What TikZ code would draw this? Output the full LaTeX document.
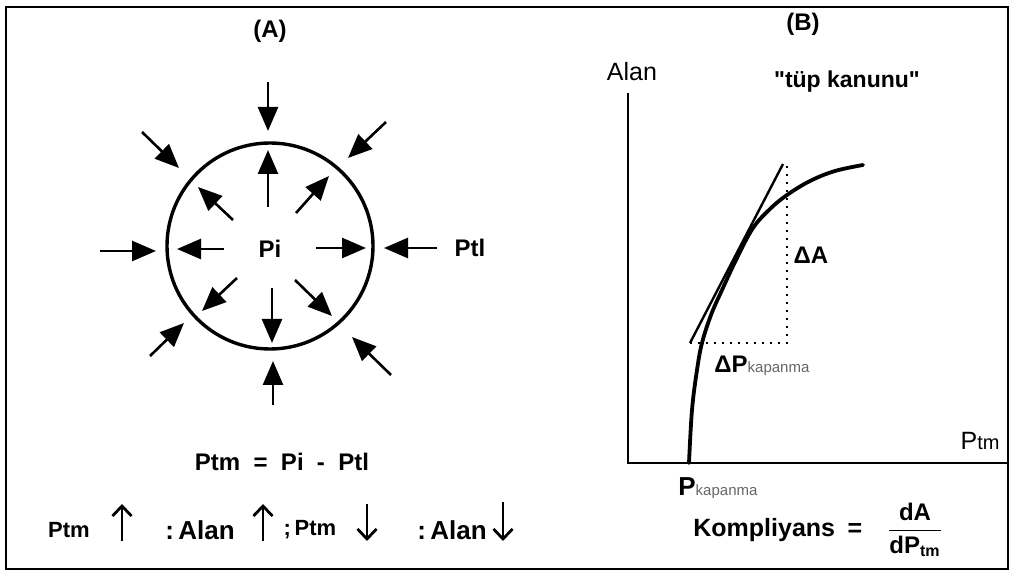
\documentclass[tikz,border=0pt]{standalone}
\usepackage{fontspec}
\setmainfont{Liberation Sans}
\usepackage{amsmath}
\usetikzlibrary{arrows.meta, positioning, calc}
\tikzset{
    tbframe/.style={draw, line width=1.3pt},
    tbarrow/.style={-{Triangle[length=12pt, width=10pt]}, line width=1.3pt},
    tbsmall/.style={-{Straight Barb[length=5pt, width=9.5pt]}, line width=1.4pt},
    tbtube/.style={circle, draw, line width=1.7pt, minimum size=103pt, inner sep=0pt},
    tbaxis/.style={line width=1.1pt},
    tbcurve/.style={line width=1.9pt, line cap=round},
    tbtangent/.style={line width=1.2pt},
    tbdelta/.style={line width=0.9pt, dash pattern=on 1pt off 3pt},
    tblabel/.style={font=\fontsize{12}{14}\selectfont\bfseries, inner sep=1pt},
    tbplain/.style={font=\fontsize{12.5}{14}\selectfont, inner sep=1pt}
}
\newcommand{\tbsub}[1]{{\fontsize{7.5}{8}\selectfont\mdseries\color{black!60}#1}}
\newcommand{\tbdq}{{\addfontfeatures{Ligatures=TeXOff}"}}

\begin{document}
\begin{tikzpicture}[x=0.5pt, y=-0.5pt]
  \useasboundingbox (0,0) rectangle (1014,572);
  \draw[tbframe] (6,7) rectangle (1008,569);

  % panel A: the tube
  \node[tblabel] (ta)   at (270,31)  {(A)};
  \node[tbtube]  (tube) at (270,246) {};
  \node[tblabel] (pi)   at (270,249) {Pi};
  \node[tblabel] (ptl)  at (470,248) {Ptl};

  % pressure from outside
  \draw[tbarrow] (268,82)  -- (268,131);
  \draw[tbarrow] (142,132) -- (179,168);
  \draw[tbarrow] (386,122) -- (348,158);
  \draw[tbarrow] (100,251) -- (156,251);
  \draw[tbarrow] (437,248) -- (384,248);
  \draw[tbarrow] (150,356) -- (184,323);
  \draw[tbarrow] (273,405) -- (273,361);
  \draw[tbarrow] (391,375) -- (352,337);

  % pressure from inside
  \draw[tbarrow] (268,207) -- (268,150);
  \draw[tbarrow] (296,213) -- (329,176);
  \draw[tbarrow] (233,220) -- (198,187);
  \draw[tbarrow] (224,249) -- (177,249);
  \draw[tbarrow] (316,248) -- (366,248);
  \draw[tbarrow] (237,278) -- (202,311);
  \draw[tbarrow] (272,288) -- (272,343);
  \draw[tbarrow] (295,280) -- (332,316);

  \node[tblabel] (ptm) at (282,462) {Ptm\ \ =\ \ Pi\ \ -\ \ Ptl};

  % legend line
  \node[tblabel, font=\fontsize{11}{13}\selectfont\bfseries] (la) at (69,530)  {Ptm};
  \node[tblabel, font=\fontsize{13}{15}\selectfont\bfseries] (lb) at (200,530) {:\,Alan};
  \node[tblabel, font=\fontsize{11}{13}\selectfont\bfseries] (lc) at (310,530) {;\,Ptm};
  \node[tblabel, font=\fontsize{13}{15}\selectfont\bfseries] (ld) at (452,530) {:\,Alan};
  \draw[tbsmall] (122,541) -- (122,504);
  \draw[tbsmall] (263,541) -- (263,504);
  \draw[tbsmall] (367,504) -- (367,541);
  \draw[tbsmall] (503,502) -- (503,541);

  % panel B: tube law
  \node[tblabel] (tb)   at (803,24) {(B)};
  \node[tbplain] (alan) at (632,72) {Alan};
  \node[tblabel, font=\fontsize{11.5}{14}\selectfont\bfseries] (law) at (847,82) {\tbdq tüp kanunu\tbdq};
  \coordinate (o)  at (628,463);
  \coordinate (ya) at (628,93);
  \coordinate (xa) at (1008,463);
  \draw[tbaxis] (ya) -- (o) -- (xa);
  \node[tbplain, anchor=base east] (xl) at (1002,450) {P{\fontsize{10}{11}\selectfont tm}};

  \draw[tbcurve] plot[smooth, tension=0.6] coordinates {(689,463) (692,410) (697,370)
    (702,343) (711,315) (722,290) (737,258) (753,228) (770,209) (787,195)
    (810,181) (835,171) (863,165)};
  \coordinate (t1) at (690,343);
  \coordinate (t2) at (783,164);
  \coordinate (d1) at (787,343);
  \coordinate (d2) at (787,166);
  \draw[tbtangent] (t1) -- (t2);
  \draw[tbdelta] (t1) -- (d1) -- (d2);
  \node[tblabel] (da) at (811,255) {ΔA};
  \node[tblabel, anchor=base west] (dp) at (712,373) {ΔP\tbsub{kapanma}};
  \node[tblabel, anchor=base west, font=\fontsize{13}{15}\selectfont\bfseries] (pk) at (676,496) {P\tbsub{kapanma}};

  \node[tblabel, anchor=base west, font=\fontsize{12.5}{15}\selectfont\bfseries] (kom) at (691,537) {Kompliyans\enspace=};
  \node[tblabel] (frac) at (915,530) {$\dfrac{\text{dA}}{\text{dP}_{\text{tm}}}$};
\end{tikzpicture}
\end{document}
